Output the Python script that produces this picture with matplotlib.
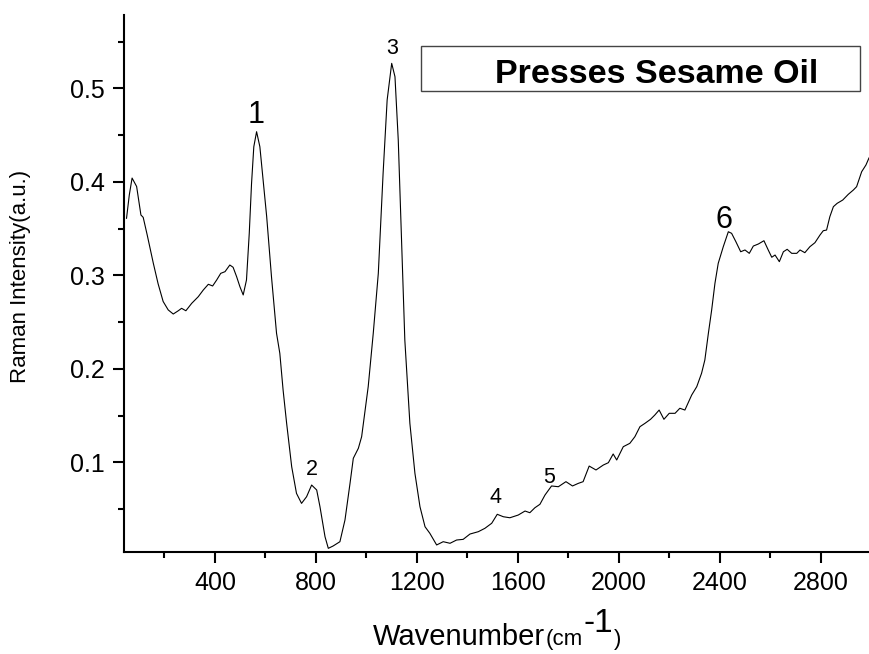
import matplotlib
matplotlib.use("Agg")
import matplotlib.pyplot as plt
from matplotlib.patches import Rectangle
from matplotlib.ticker import MultipleLocator

plt.rcParams['font.family'] = ['Liberation Sans', 'DejaVu Sans']

# Raman spectrum of pressed sesame oil
wavenumber = [50, 61, 72, 90, 107, 116, 132, 145, 156, 175, 195, 215, 235, 255, 268, 285,
              308, 334, 354, 374, 391, 407, 423, 440, 459, 472, 486, 499, 512, 525, 536, 545,
              554, 565, 578, 591, 605, 624, 644, 657, 670, 684, 704, 723, 743, 763, 783, 803,
              816, 836, 849, 868, 895, 915, 935, 948, 968, 981, 1007, 1027, 1047, 1066, 1082,
              1100, 1113, 1126, 1139, 1152, 1172, 1192, 1212, 1232, 1251, 1278, 1304, 1331,
              1357, 1383, 1410, 1443, 1469, 1496, 1518, 1542, 1568, 1601, 1628, 1647, 1667,
              1687, 1707, 1733, 1760, 1790, 1816, 1839, 1858, 1882, 1909, 1938, 1958, 1977,
              1991, 2017, 2043, 2063, 2083, 2103, 2125, 2142, 2159, 2178, 2199, 2222, 2241,
              2261, 2288, 2308, 2327, 2340, 2354, 2367, 2380, 2393, 2413, 2433, 2446, 2463,
              2482, 2499, 2516, 2532, 2552, 2574, 2591, 2605, 2618, 2635, 2651, 2666, 2684,
              2704, 2717, 2736, 2756, 2776, 2796, 2809, 2822, 2835, 2849, 2864, 2886, 2908,
              2928, 2941, 2961, 2978, 2990]
intensity = [0.361, 0.386, 0.404, 0.395, 0.3645, 0.362, 0.343, 0.327, 0.313, 0.291, 0.272,
             0.263, 0.2586, 0.2621, 0.2647, 0.2621, 0.270, 0.2771, 0.2843, 0.2904, 0.2886,
             0.295, 0.3021, 0.3039, 0.311, 0.3086, 0.2985, 0.2878, 0.279, 0.295, 0.345, 0.398,
             0.4375, 0.4536, 0.4375, 0.402, 0.3627, 0.2985, 0.238, 0.2166, 0.1773, 0.1417,
             0.0953, 0.0668, 0.0561, 0.0632, 0.0757, 0.0704, 0.0525, 0.0204, 0.008, 0.0105,
             0.0151, 0.0383, 0.0775, 0.1043, 0.115, 0.1274, 0.1809, 0.238, 0.3021, 0.4091,
             0.4875, 0.5267, 0.5124, 0.4447, 0.3378, 0.2308, 0.1417, 0.0882, 0.0525, 0.0311,
             0.0241, 0.0116, 0.0151, 0.0134, 0.0169, 0.0176, 0.0233, 0.0258, 0.0294, 0.0348,
             0.0444, 0.0418, 0.0407, 0.0436, 0.0479, 0.0461, 0.0514, 0.0551, 0.065, 0.0747,
             0.0739, 0.0793, 0.0747, 0.0775, 0.0793, 0.096, 0.0918, 0.0971, 0.0996, 0.1089,
             0.1025, 0.1167, 0.1203, 0.1274, 0.1381, 0.1417, 0.146, 0.1506, 0.1559, 0.146,
             0.1524, 0.1524, 0.1578, 0.1559, 0.172, 0.1809, 0.1952, 0.2094, 0.238, 0.2629,
             0.2914, 0.3128, 0.3306, 0.3466, 0.3449, 0.3359, 0.3252, 0.3271, 0.3235, 0.3313,
             0.3335, 0.337, 0.3271, 0.3193, 0.3217, 0.3146, 0.3252, 0.3278, 0.3235, 0.3235,
             0.3271, 0.3242, 0.3306, 0.3349, 0.3431, 0.3477, 0.3484, 0.3627, 0.3734, 0.377,
             0.3805, 0.3866, 0.3912, 0.3948, 0.4108, 0.418, 0.4255]

# peak numbers and where they sit
peak_labels = ['1', '2', '3', '4', '5', '6']
peak_x = [565, 784, 1100, 1513, 1723, 2416]
peak_y = [0.463, 0.0864, 0.537, 0.0568, 0.0779, 0.3506]
peak_size = [22, 15.5, 15.5, 15.5, 15.5, 22]

fig = plt.figure(figsize=(8.7, 6.54), dpi=100)
ax = fig.add_axes([0.14253, 0.15642, 0.85747, 0.82064])

ax.plot(wavenumber, intensity, color='black', lw=0.8)

for lab, x, y, s in zip(peak_labels, peak_x, peak_y, peak_size):
    ax.text(x, y, lab, ha='center', va='baseline', fontsize=s)

ax.set_xlim(40, 2994)
ax.set_ylim(0.0044, 0.5784)

ax.xaxis.set_major_locator(MultipleLocator(400))
ax.xaxis.set_minor_locator(MultipleLocator(200))
ax.yaxis.set_minor_locator(MultipleLocator(0.05))
ax.set_yticks([0.1, 0.2, 0.3, 0.4, 0.5])
ax.set_yticklabels(['0.1', '0.2', '0.3', '0.4', '0.5'])

ax.spines['top'].set_visible(False)
ax.spines['right'].set_visible(False)
ax.spines['left'].set_linewidth(1.5)
ax.spines['bottom'].set_linewidth(1.5)
ax.tick_params(which='major', direction='out', length=8, width=1.5, labelsize=18, pad=6)
ax.tick_params(which='minor', direction='out', length=4, width=1.5)

# title box
ax.add_patch(Rectangle((0.3977, 0.859), 0.5889, 0.084, transform=ax.transAxes,
                       facecolor='white', edgecolor='#444444', lw=1.0, zorder=3))
ax.text(0.4973, 0.8739, 'Presses Sesame Oil', transform=ax.transAxes, ha='left',
        va='baseline', fontsize=24.5, fontweight='bold', zorder=4)

fig.text(21 / 870, 0.577, 'Raman Intensity(a.u.)', rotation=90, ha='center', va='center',
         fontsize=16)

# x label built from pieces so the superscript can be larger than "(cm"
W, H = 870, 654
fig.canvas.draw()
r = fig.canvas.get_renderer()
base_y = 1 - 645 / H
t = fig.text(373 / W, base_y, 'Wavenumber', ha='left', va='baseline', fontsize=21)
x_end = t.get_window_extent(r).x1
t = fig.text(x_end / W + 1 / W, base_y, '(cm', ha='left', va='baseline', fontsize=16)
x_end = t.get_window_extent(r).x1
t = fig.text(x_end / W, 1 - 631.7 / H, '-1', ha='left', va='baseline', fontsize=24)
x_end = t.get_window_extent(r).x1
fig.text(x_end / W + 1 / W, base_y, ')', ha='left', va='baseline', fontsize=16)

fig.savefig('out.png', dpi=100)
